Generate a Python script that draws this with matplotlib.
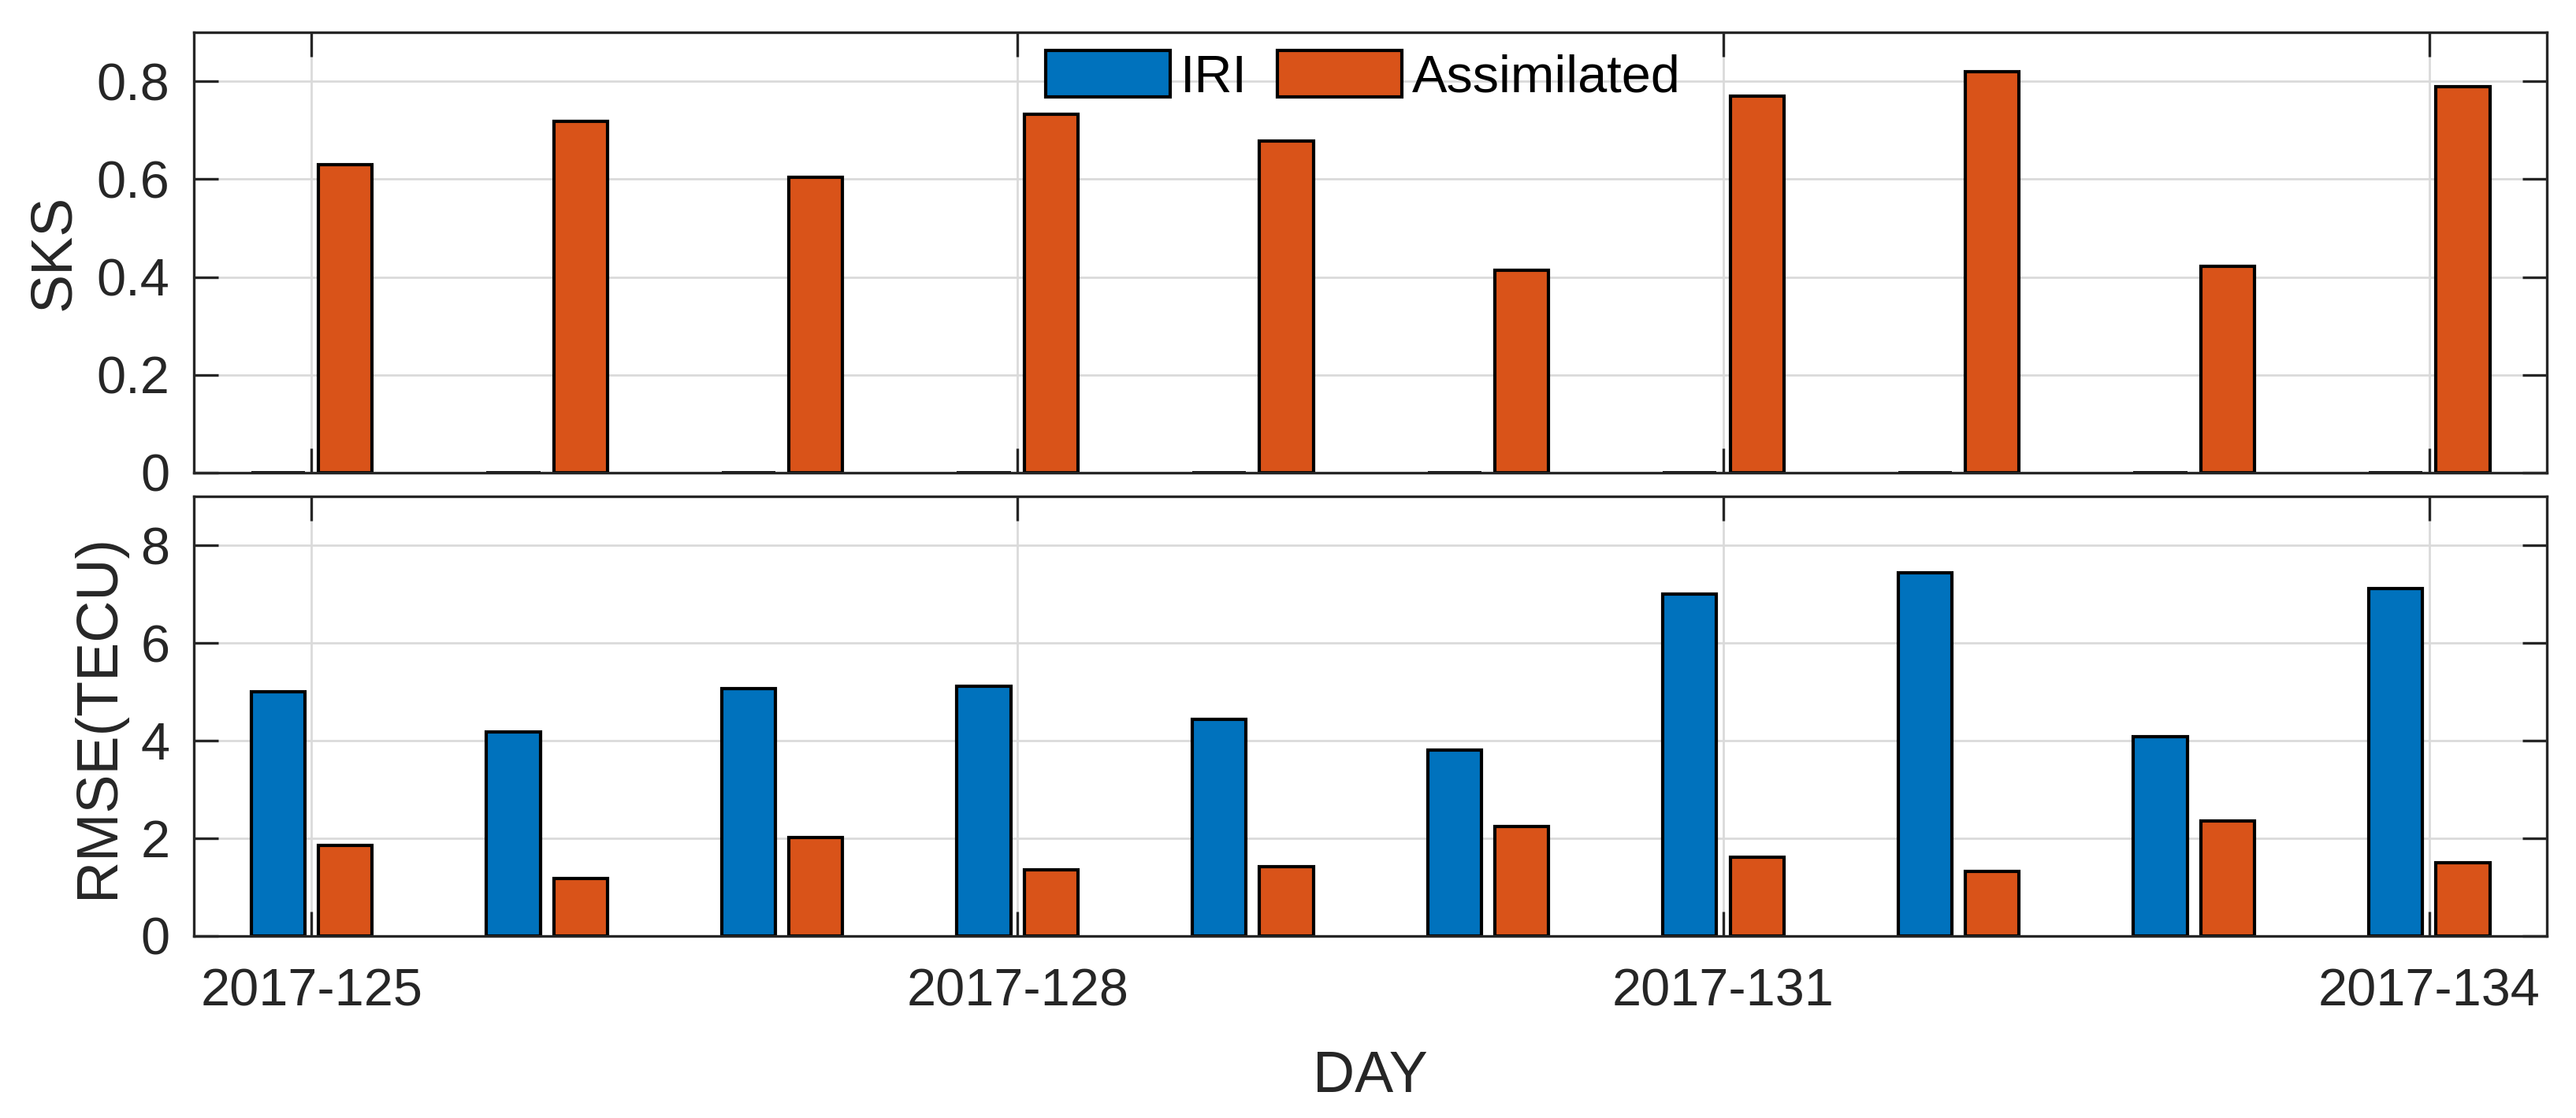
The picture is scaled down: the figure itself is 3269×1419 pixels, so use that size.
import numpy as np
import matplotlib.pyplot as plt

plt.rcParams['font.family'] = ['Liberation Sans', 'DejaVu Sans']

# data
days = np.array([125, 126, 127, 128, 129, 130, 131, 132, 133, 134])
tick_days = [125, 128, 131, 134]
tick_labels = ['2017-125', '2017-128', '2017-131', '2017-134']

sks_iri = [0, 0, 0, 0, 0, 0, 0, 0, 0, 0]
sks_assim = [0.630, 0.718, 0.603, 0.732, 0.678, 0.413, 0.769, 0.819, 0.421, 0.789]
rmse_iri = [5.00, 4.18, 5.07, 5.11, 4.44, 3.81, 7.00, 7.44, 4.08, 7.11]
rmse_assim = [1.85, 1.18, 2.01, 1.35, 1.42, 2.24, 1.62, 1.33, 2.35, 1.50]

c_iri = '#0072BD'
c_ass = '#D95319'
dark = '#262626'

# matlab style grouped bars
group_w = min(0.8, 2 / (2 + 1.5))
bar_w = group_w / 2 * 0.8
off = group_w / 4

fig = plt.figure(figsize=(32.69, 14.19), dpi=100)
ax1 = fig.add_axes([0.0753, 0.5772, 0.9134, 0.3939])
ax2 = fig.add_axes([0.0753, 0.1628, 0.9134, 0.3932])


def style(ax, ylim, yticks):
    ax.set_xlim(124.5, 134.5)
    ax.set_ylim(*ylim)
    ax.set_yticks(yticks)
    ax.set_xticks(tick_days)
    ax.grid(True, color='#DADADA', linewidth=2.0)
    ax.set_axisbelow(True)
    for s in ax.spines.values():
        s.set_color(dark)
        s.set_linewidth(2.4)
    ax.tick_params(direction='in', length=22, width=2.4, color=dark,
                   labelcolor=dark, labelsize=48, pad=22,
                   top=True, right=True)
    ax.tick_params(axis='x', pad=29)


b1 = ax1.bar(days - off, sks_iri, bar_w, color=c_iri, edgecolor='black', linewidth=3, label='IRI')
b2 = ax1.bar(days + off, sks_assim, bar_w, color=c_ass, edgecolor='black', linewidth=3, label='Assimilated')
style(ax1, (0, 0.9), [0, 0.2, 0.4, 0.6, 0.8])
ax1.set_yticklabels(['0', '0.2', '0.4', '0.6', '0.8'])
ax1.set_xticklabels([])
ax1.set_ylabel('SKS', fontsize=53, color=dark, labelpad=14)

ax2.bar(days - off, rmse_iri, bar_w, color=c_iri, edgecolor='black', linewidth=3)
ax2.bar(days + off, rmse_assim, bar_w, color=c_ass, edgecolor='black', linewidth=3)
style(ax2, (0, 9), [0, 2, 4, 6, 8])
ax2.set_xticklabels(tick_labels)
ax2.set_ylabel('RMSE(TECU)', fontsize=53, color=dark, labelpad=14)
ax2.set_xlabel('DAY', fontsize=53, color=dark, labelpad=30)

ax1.legend(handles=[b1, b2], loc='upper center', bbox_to_anchor=(0.497, 1.0),
           ncol=2, frameon=False, fontsize=48, handlelength=2.36, handleheight=0.98,
           handletextpad=0.2, columnspacing=0.58, borderaxespad=0.15, borderpad=0.2)

fig.savefig('out.png', dpi=100)
